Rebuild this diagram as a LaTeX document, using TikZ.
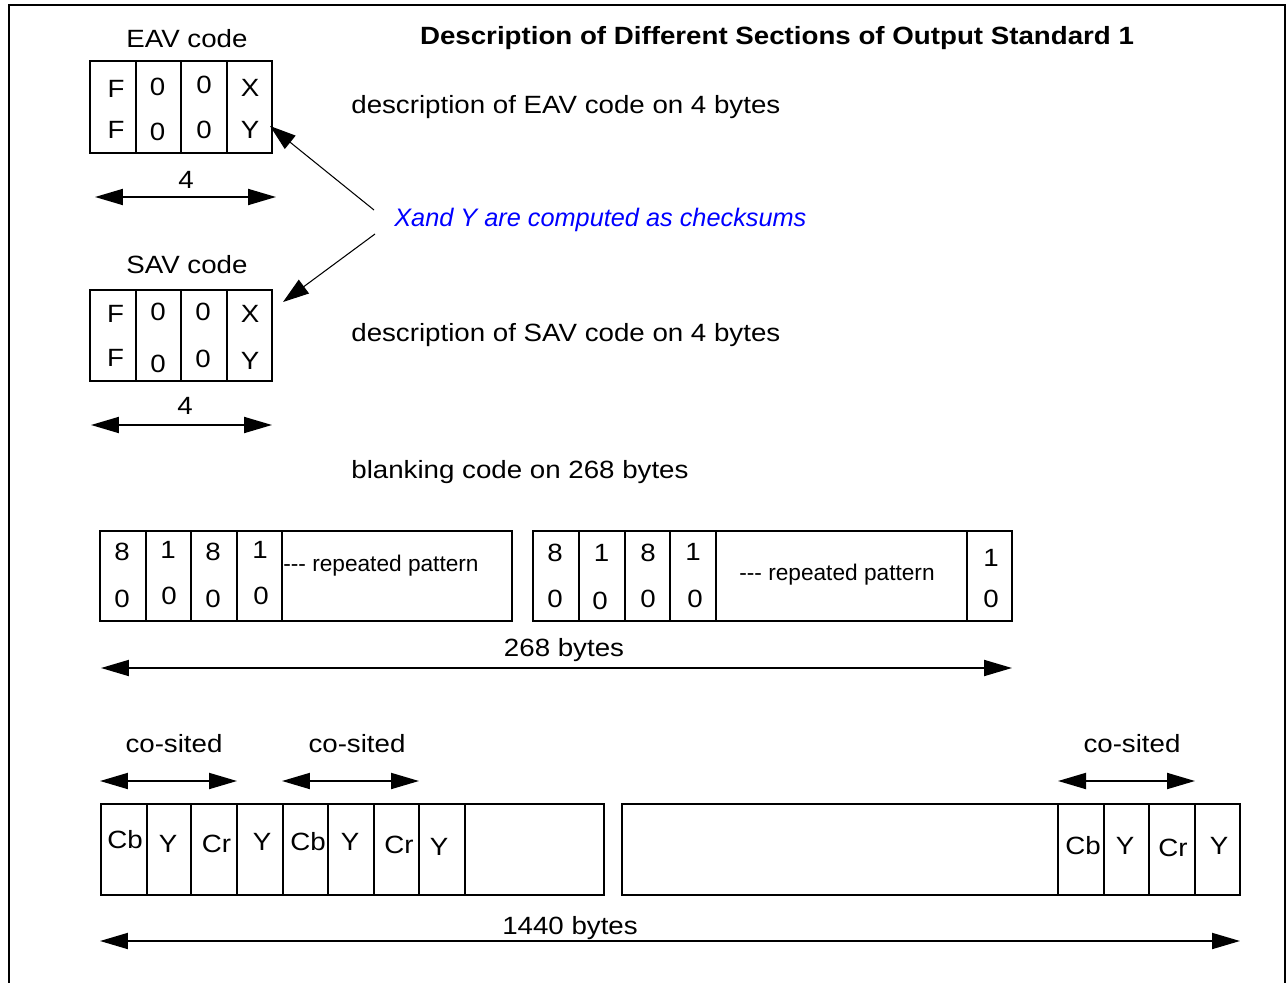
\documentclass[tikz,border=0pt]{standalone}
\usepackage{fontspec}
\setmainfont{Liberation Sans}[FakeStretch=1.11]
\newfontfamily\plainsans{Liberation Sans}
\usetikzlibrary{arrows.meta}
\newcommand\cellnode[5]{\node[cell, minimum width={(#4-#2)*0.02cm}, minimum height={(#5-#3)*0.02cm}] (#1) at ({(#2+#4)/2},{(#3+#5)/2}) {};}
\tikzset{
  lbl/.style={inner sep=0pt, text height=10.2pt, text depth=0pt, font=\fontsize{14.2pt}{17pt}\selectfont},
  ttl/.style={lbl, font=\fontsize{14.2pt}{17pt}\selectfont\bfseries},
  small/.style={lbl, text height=9.2pt, font=\plainsans\fontsize{12.9pt}{15pt}\selectfont},
  note/.style={lbl, text=blue, font=\plainsans\itshape\fontsize{14.4pt}{17pt}\selectfont},
  cell/.style={draw, rectangle, line width=1pt, inner sep=0pt},
  dim/.style={line width=1.1pt, {Triangle[length=0.56cm, width=0.32cm]}-{Triangle[length=0.56cm, width=0.32cm]}},
  pointer/.style={line width=0.6pt, -{Triangle[length=0.52cm, width=0.34cm]}},
  frame/.style={line width=1.1pt}
}
\begin{document}
\begin{tikzpicture}[x=0.02cm, y=-0.02cm]
\path[use as bounding box] (0,0) rectangle (1288,983);
\clip (0,0) rectangle (1288,983);
% outer frame
\draw[frame] (9,1000) -- (9,5) -- (1285,5) -- (1285,1000);

% title
\node[ttl] (title) at (777,36) {Description of Different Sections of Output Standard 1};

% ---------- EAV ----------
\node[lbl] (eavlbl) at (187,39) {EAV code};
\cellnode{e1}{90}{61}{136}{153}
\cellnode{e2}{136}{61}{181}{153}
\cellnode{e3}{181}{61}{227}{153}
\cellnode{e4}{227}{61}{272}{153}
\node[lbl] (eF1) at (116,88.5) {F};
\node[lbl] (e01) at (157.5,87) {0};
\node[lbl] (e02) at (204,85) {0};
\node[lbl] (eX) at (250,88) {X};
\node[lbl] (eF2) at (116,130) {F};
\node[lbl] (e03) at (157.5,132) {0};
\node[lbl] (e04) at (204,130) {0};
\node[lbl] (eY) at (250,130) {Y};
\node[lbl] (efour) at (186,180) {4};
\coordinate (ea) at (95,197);
\coordinate (eb) at (276,197);
\draw[dim] (ea) -- (eb);
\node[lbl, anchor=west] (eavdesc) at (351,105) {description of EAV code on 4 bytes};

% ---------- note ----------
\node[note, anchor=west] (note) at (394,218) {Xand Y are computed as checksums};
\coordinate (n1) at (374,210);
\coordinate (n2) at (375,234);
\coordinate (t1) at (270,126);
\coordinate (t2) at (283,302);
\draw[pointer] (n1) -- (t1);
\draw[pointer] (n2) -- (t2);

% ---------- SAV ----------
\node[lbl] (savlbl) at (187,264.5) {SAV code};
\cellnode{s1}{90}{290}{136}{381}
\cellnode{s2}{136}{290}{181}{381}
\cellnode{s3}{181}{290}{227}{381}
\cellnode{s4}{227}{290}{272}{381}
\node[lbl] (sF1) at (115.5,314) {F};
\node[lbl] (s01) at (158,312) {0};
\node[lbl] (s02) at (203,312) {0};
\node[lbl] (sX) at (250,314) {X};
\node[lbl] (sF2) at (115.5,358) {F};
\node[lbl] (s03) at (158,363.5) {0};
\node[lbl] (s04) at (203,359) {0};
\node[lbl] (sY) at (250,361) {Y};
\node[lbl] (sfour) at (185,406) {4};
\coordinate (sa) at (91,425);
\coordinate (sb) at (272,425);
\draw[dim] (sa) -- (sb);
\node[lbl, anchor=west] (savdesc) at (351,333) {description of SAV code on 4 bytes};

% ---------- blanking ----------
\node[lbl, anchor=west] (blankdesc) at (351,470) {blanking code on 268 bytes};
\cellnode{b1}{100}{531}{146}{621}
\cellnode{b2}{146}{531}{191}{621}
\cellnode{b3}{191}{531}{237}{621}
\cellnode{b4}{237}{531}{282}{621}
\cellnode{b5}{282}{531}{512}{621}
\node[lbl] (b1a) at (122,552) {8};
\node[lbl] (b1b) at (122,599) {0};
\node[lbl] (b2a) at (168,550) {1};
\node[lbl] (b2b) at (169,596) {0};
\node[lbl] (b3a) at (213,552) {8};
\node[lbl] (b3b) at (213,599) {0};
\node[lbl] (b4a) at (260,550) {1};
\node[lbl] (b4b) at (261,596) {0};
\node[small, anchor=west] (rp1) at (283,563) {-{}-{}- repeated pattern};

\cellnode{c1}{533}{531}{579}{621}
\cellnode{c2}{579}{531}{625}{621}
\cellnode{c3}{625}{531}{670}{621}
\cellnode{c4}{670}{531}{716}{621}
\cellnode{c5}{716}{531}{967}{621}
\cellnode{c6}{967}{531}{1012}{621}
\node[lbl] (c1a) at (555,553) {8};
\node[lbl] (c1b) at (555,599) {0};
\node[lbl] (c2a) at (601.5,553) {1};
\node[lbl] (c2b) at (600,601) {0};
\node[lbl] (c3a) at (648,553) {8};
\node[lbl] (c3b) at (648,599) {0};
\node[lbl] (c4a) at (693,552) {1};
\node[lbl] (c4b) at (695,599) {0};
\node[small] (rp2) at (837,572) {-{}-{}- repeated pattern};
\node[lbl] (c6a) at (991,558) {1};
\node[lbl] (c6b) at (991,599) {0};

\node[lbl] (bytes268) at (564,648) {268 bytes};
\coordinate (ba) at (101,668);
\coordinate (bb) at (1012,668);
\draw[dim] (ba) -- (bb);

% ---------- pixel data ----------
\node[lbl] (cs1) at (174,744) {co-sited};
\node[lbl] (cs2) at (357,744) {co-sited};
\node[lbl] (cs3) at (1132,744) {co-sited};
\coordinate (k1a) at (100,781);
\coordinate (k1b) at (237,781);
\coordinate (k2a) at (282,781);
\coordinate (k2b) at (419,781);
\coordinate (k3a) at (1058,781);
\coordinate (k3b) at (1195,781);
\draw[dim] (k1a) -- (k1b);
\draw[dim] (k2a) -- (k2b);
\draw[dim] (k3a) -- (k3b);

\cellnode{p1}{101}{804}{147}{895}
\cellnode{p2}{147}{804}{191}{895}
\cellnode{p3}{191}{804}{237}{895}
\cellnode{p4}{237}{804}{283}{895}
\cellnode{p5}{283}{804}{328}{895}
\cellnode{p6}{328}{804}{374}{895}
\cellnode{p7}{374}{804}{419}{895}
\cellnode{p8}{419}{804}{465}{895}
\cellnode{p9}{465}{804}{604}{895}
\node[lbl] (p1t) at (125,840) {Cb};
\node[lbl] (p2t) at (168,844) {Y};
\node[lbl] (p3t) at (216.5,844) {Cr};
\node[lbl] (p4t) at (262,842) {Y};
\node[lbl] (p5t) at (308,842) {Cb};
\node[lbl] (p6t) at (350,842) {Y};
\node[lbl] (p7t) at (399,845) {Cr};
\node[lbl] (p8t) at (439,847) {Y};

\cellnode{q1}{622}{804}{1058}{895}
\cellnode{q2}{1058}{804}{1104}{895}
\cellnode{q3}{1104}{804}{1149}{895}
\cellnode{q4}{1149}{804}{1195}{895}
\cellnode{q5}{1195}{804}{1240}{895}
\node[lbl] (q2t) at (1083,846) {Cb};
\node[lbl] (q3t) at (1125,846) {Y};
\node[lbl] (q4t) at (1173,848) {Cr};
\node[lbl] (q5t) at (1219,846) {Y};

\node[lbl] (bytes1440) at (570,926) {1440 bytes};
\coordinate (la) at (100,941);
\coordinate (lb) at (1240,941);
\draw[dim] (la) -- (lb);
\end{tikzpicture}
\end{document}
